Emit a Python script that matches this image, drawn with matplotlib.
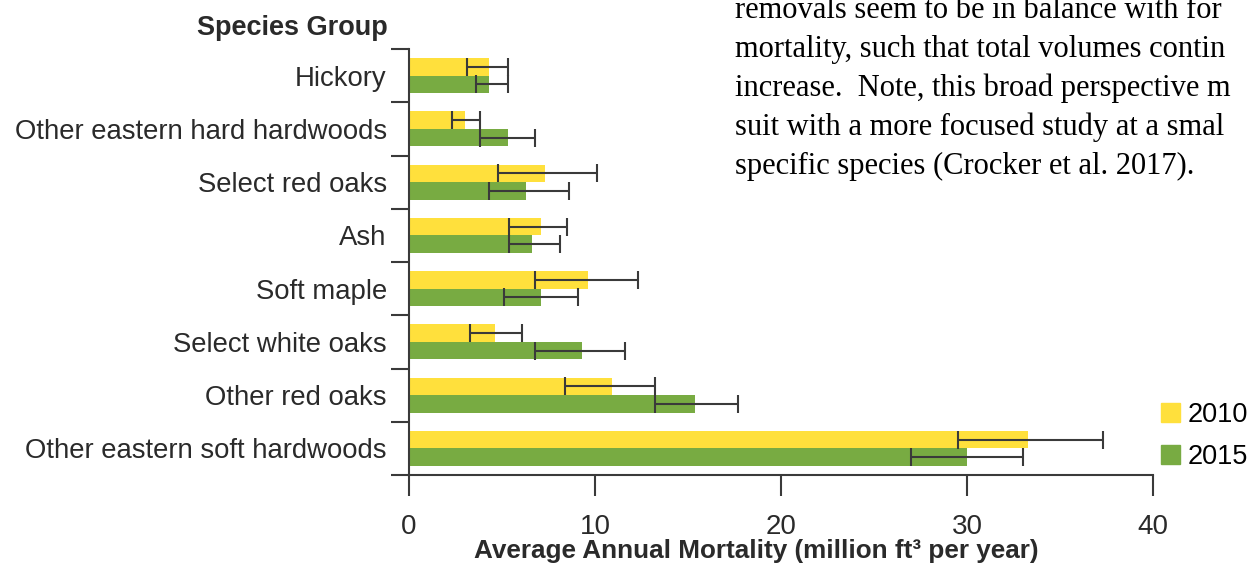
import matplotlib
matplotlib.use("Agg")
import matplotlib.pyplot as plt
from matplotlib.patches import Patch

# species groups, top to bottom
groups = ["Hickory", "Other eastern hard hardwoods", "Select red oaks", "Ash",
          "Soft maple", "Select white oaks", "Other red oaks",
          "Other eastern soft hardwoods"]

# average annual mortality (million ft3 / yr)
mort_2010 = [4.3, 3.0, 7.3, 7.1, 9.6, 4.6, 10.9, 33.3]
mort_2015 = [4.3, 5.3, 6.3, 6.6, 7.1, 9.3, 15.4, 30.0]

# confidence interval ends
low_2010 = [3.1, 2.3, 4.8, 5.4, 6.8, 3.3, 8.4, 29.5]
high_2010 = [5.3, 3.8, 10.1, 8.5, 12.3, 6.1, 13.2, 37.3]
low_2015 = [3.6, 3.8, 4.3, 5.4, 5.1, 6.8, 13.2, 27.0]
high_2015 = [5.3, 6.8, 8.6, 8.1, 9.1, 11.6, 17.7, 33.0]

years = ["2010", "2015"]

col_2010 = "#FFE03C"
col_2015 = "#78AB42"
dark = "#3a3a3a"
txt = "#2a2a2a"

plt.rcParams['font.family'] = ["Liberation Sans", "DejaVu Sans"]

fig = plt.figure(figsize=(12.49, 5.65), dpi=100)
ax = fig.add_axes([409 / 1249, 1 - 475 / 565, 744 / 1249, (475 - 49) / 565])

pos = list(range(len(groups)))
h = 0.33
y10 = [p - h / 2 for p in pos]
y15 = [p + h / 2 for p in pos]

ax.barh(y10, mort_2010, height=h, color=col_2010, zorder=2)
ax.barh(y15, mort_2015, height=h, color=col_2015, zorder=2)

err10 = [[m - lo for m, lo in zip(mort_2010, low_2010)],
         [hi - m for m, hi in zip(mort_2010, high_2010)]]
err15 = [[m - lo for m, lo in zip(mort_2015, low_2015)],
         [hi - m for m, hi in zip(mort_2015, high_2015)]]
ax.errorbar(mort_2010, y10, xerr=err10, fmt="none", ecolor=dark,
            elinewidth=1.5, capsize=6.5, capthick=1.5, zorder=3)
ax.errorbar(mort_2015, y15, xerr=err15, fmt="none", ecolor=dark,
            elinewidth=1.5, capsize=6.5, capthick=1.5, zorder=3)

ax.set_xlim(0, 40)
ax.set_ylim(len(groups) - 0.5, -0.5)

# major ticks on the boundaries, labels on minor ticks at centres
ax.set_yticks([p - 0.5 for p in range(len(groups) + 1)])
ax.set_yticklabels([])
ax.set_yticks(pos, minor=True)
ax.set_yticklabels(groups, minor=True, fontsize=19.8, color=txt)
ax.tick_params(axis="y", which="major", length=13, width=1.5, color=dark)
ax.tick_params(axis="y", which="minor", length=0, pad=16)

ax.set_xticks([0, 10, 20, 30, 40])
ax.tick_params(axis="x", length=15, width=1.5, color=dark, labelsize=20,
               labelcolor=txt, pad=13)

for s in ["top", "right"]:
    ax.spines[s].set_visible(False)
for s in ["left", "bottom"]:
    ax.spines[s].set_color(dark)
    ax.spines[s].set_linewidth(1.5)

fig.text(756 / 1249, 1 - 551 / 565,
         "Average Annual Mortality (million ft³ per year)", fontsize=18.8,
         fontweight="bold", color=txt, ha="center", va="center")
fig.text(388 / 1249, 1 - 28 / 565, "Species Group", fontsize=19.5,
         fontweight="bold", color=txt, ha="right", va="center")

handles = [Patch(color=col_2010), Patch(color=col_2015)]
fig.legend(handles, years, loc="upper left",
           bbox_to_anchor=(1161 / 1249, 1 - 402 / 565), frameon=False,
           fontsize=19.5, handlelength=0.7, handleheight=0.7,
           handletextpad=0.3, labelspacing=0.58, borderpad=0,
           borderaxespad=0)

# surrounding report text, as far as it shows in the crop
para = ["removals seem to be in balance with for",
        "mortality, such that total volumes contin",
        "increase.  Note, this broad perspective m",
        "suit with a more focused study at a smal",
        "specific species (Crocker et al. 2017)."]
for i, line in enumerate(para):
    fig.text(735 / 1249, 1 - (11 + 38.8 * i) / 565, line, fontsize=22,
             family=["Liberation Serif", "DejaVu Serif"], color="black",
             ha="left", va="center")

fig.savefig("out.png", dpi=100)
